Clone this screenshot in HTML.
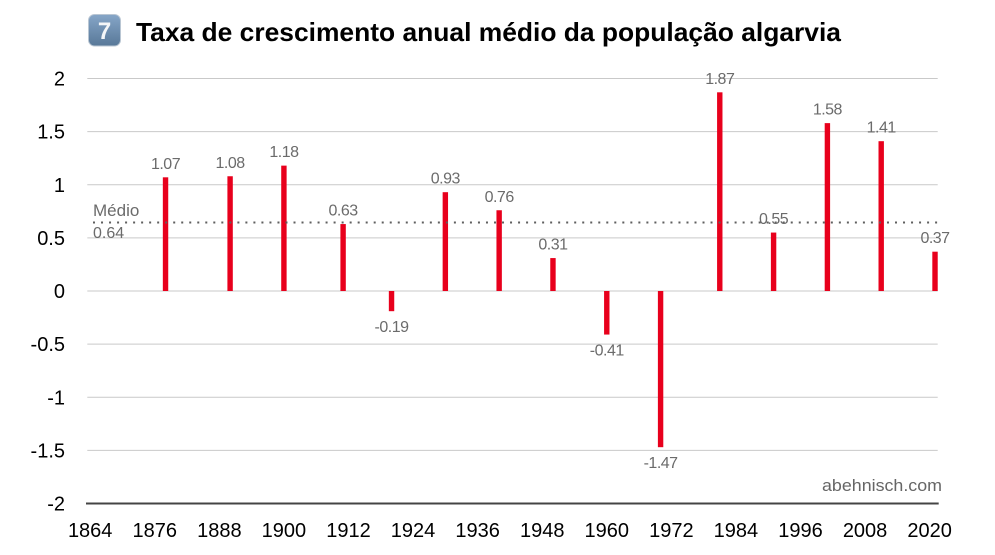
<!DOCTYPE html>
<html lang="pt">
<head>
<meta charset="utf-8">
<title>Taxa de crescimento anual médio da população algarvia</title>
<style>
html,body{margin:0;padding:0;background:#fff;}
body{width:995px;height:555px;overflow:hidden;}
svg{display:block;font-family:"Liberation Sans","DejaVu Sans",sans-serif;}
</style>
</head>
<body>
<svg id="chart" width="995" height="555" viewBox="0 0 995 555" xmlns="http://www.w3.org/2000/svg">
  <defs>
    <linearGradient id="badge-fill" x1="0" y1="0" x2="0" y2="1">
      <stop offset="0" stop-color="#86a6c8"/>
      <stop offset="1" stop-color="#587898"/>
    </linearGradient>
  </defs>
  <g>
    <rect x="88.5" y="14.5" width="32" height="31.5" rx="6" fill="url(#badge-fill)" stroke="#b9c6d3" stroke-width="1"/>
    <text x="104.5" y="39" font-size="24" font-weight="bold" fill="#f4f6f8" text-anchor="middle">7</text>
    <text x="136" y="41" font-size="26" font-weight="bold" fill="#000" textLength="705" lengthAdjust="spacingAndGlyphs">Taxa de crescimento anual médio da população algarvia</text>
  </g>
  <g id="grid"></g>
  <g id="yticks"></g>
  <g id="xticks"></g>
  <g id="bars"></g>
  <line id="meanline" stroke="#5f5f5f" stroke-width="2" stroke-dasharray="2 6.02"/>
  <text x="93" y="216" font-size="17" fill="#6b6b6b">Médio</text>
  <text id="meantext" x="93" y="238" font-size="16" fill="#6b6b6b"></text>
  <g id="labels"></g>
  <text x="942" y="491" font-size="16.5" fill="#666" text-anchor="end" textLength="120" lengthAdjust="spacingAndGlyphs">abehnisch.com</text>
</svg>
<script>
const years = [1878, 1890, 1900, 1911, 1920, 1930, 1940, 1950, 1960, 1970, 1981, 1991, 2001, 2011, 2021];
const values = [1.07, 1.08, 1.18, 0.63, -0.19, 0.93, 0.76, 0.31, -0.41, -1.47, 1.87, 0.55, 1.58, 1.41, 0.37];
const valueLabels = ["1.07", "1.08", "1.18", "0.63", "-0.19", "0.93", "0.76", "0.31", "-0.41", "-1.47", "1.87", "0.55", "1.58", "1.41", "0.37"];
const yTicks = [2, 1.5, 1, 0.5, 0, -0.5, -1, -1.5, -2];
const xTicks = [1864, 1876, 1888, 1900, 1912, 1924, 1936, 1948, 1960, 1972, 1984, 1996, 2008, 2020];
const meanValue = 0.645;
const meanLabel = "0.64";

const NS = "http://www.w3.org/2000/svg";
const xScale = function (year) { return 90.2 + (year - 1864) * 5.381; };
const yScale = function (v) { return 291 - v * 106.25; };
const barWidth = 5.4;

function make(tag, parentId, attrs, text) {
  const el = document.createElementNS(NS, tag);
  for (const k in attrs) el.setAttribute(k, attrs[k]);
  if (text !== undefined) el.textContent = text;
  document.getElementById(parentId).appendChild(el);
  return el;
}

yTicks.forEach(function (t) {
  const isBase = t === -2;
  const line = make("line", "grid", {
    x1: isBase ? 86 : 87.3,
    x2: isBase ? 938.7 : 937.7,
    y1: yScale(t),
    y2: yScale(t),
    stroke: isBase ? "#444" : "#c9c9c9",
    "stroke-width": isBase ? 2 : 1
  });
  
  
  const label = make("text", "yticks", {
    x: 65,
    y: yScale(t) + 7,
    "font-size": 20,
    fill: "#000",
    "text-anchor": "end"
  }, String(t));
  
  
});

xTicks.forEach(function (t) {
  const label = make("text", "xticks", {
    x: xScale(t),
    y: 537,
    "font-size": 20,
    fill: "#000",
    "text-anchor": "middle"
  }, String(t));
  
  
});

years.forEach(function (year, i) {
  const v = values[i];
  const top = Math.min(yScale(v), yScale(0));
  const h = Math.abs(yScale(v) - yScale(0));
  const bar = make("rect", "bars", {
    x: xScale(year) - barWidth / 2,
    y: top,
    width: barWidth,
    height: h,
    fill: "#e8001c"
  });
  
  
  const label = make("text", "labels", {
    x: xScale(year),
    y: v >= 0 ? yScale(v) - 8.5 : yScale(v) + 21,
    "font-size": 16,
    "letter-spacing": -0.5,
    fill: "#6b6b6b",
    "text-anchor": "middle"
  }, valueLabels[i]);
  
  
});

const mean = document.getElementById("meanline");
mean.setAttribute("x1", 93);
mean.setAttribute("x2", 938);
mean.setAttribute("y1", yScale(meanValue));
mean.setAttribute("y2", yScale(meanValue));
document.getElementById("meantext").textContent = meanLabel;
</script>
</body>
</html>
